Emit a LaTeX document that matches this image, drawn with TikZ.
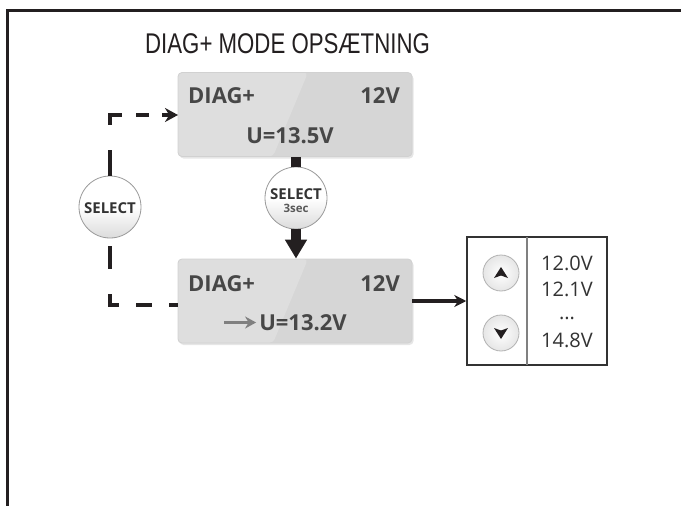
\documentclass[tikz,border=0pt]{standalone}
\usepackage{fontspec}
\setmainfont{Open Sans}
\newfontfamily\titlefont{Liberation Sans}
\usetikzlibrary{arrows.meta,shadows}
\definecolor{lcdlight}{HTML}{DEDEDE}
\definecolor{lcddark}{HTML}{D6D6D6}
\definecolor{inkdark}{HTML}{231F20}
\tikzset{
  lcdbox/.style={rectangle, rounded corners=4pt, minimum width=234pt, minimum height=84pt, inner sep=0pt,
    fill=lcddark, draw=black!18, line width=0.8pt,
    drop shadow={shadow xshift=1.5pt, shadow yshift=-2pt, opacity=0.2},
    path picture={\fill[lcdlight] (path picture bounding box.north west) -- ([xshift=130pt]path picture bounding box.north west)
      -- ([xshift=95pt]path picture bounding box.south west) -- (path picture bounding box.south west) -- cycle;}},
  lcdtext/.style={font=\bfseries\fontsize{22}{24}\selectfont, text=black!72, inner sep=0pt},
  bigbutton/.style={circle, minimum size=62pt, inner sep=0pt, draw=black!40, line width=0.8pt,
    top color=white, bottom color=black!14, middle color=white, align=center},
  smallbutton/.style={circle, minimum size=36pt, inner sep=0pt, draw=black!30, line width=0.8pt,
    inner color=white, outer color=black!10},
  buttontext/.style={font=\bfseries\fontsize{15}{15}\selectfont, text=black!80, inner sep=0pt},
  listtext/.style={font=\fontsize{20}{20}\selectfont, text=black!80, inner sep=0pt},
  wire/.style={inkdark, line width=3.5pt},
  fatwire/.style={inkdark, line width=10.5pt}
}

\begin{document}
\begin{tikzpicture}[x=1pt,y=-1pt]
  \useasboundingbox (0,0) rectangle (681,506);
  \draw[inkdark, line width=3pt] (681,10.5) -- (7.5,10.5) -- (7.5,506);
  \node[font=\titlefont\fontsize{28.5}{30}\selectfont, text=inkdark, inner sep=0pt, anchor=west, xscale=0.78, transform shape] (title) at (145,44) {DIAG+ MODE OPSÆTNING};

  % displays
  \node[lcdbox] (topbox) at (295,114.5) {};
  \node[lcdbox] (botbox) at (295,301) {};
  \node[lcdtext, anchor=west] (topdiag) at (188,95.5) {DIAG+};
  \node[lcdtext, anchor=east] (topvolt) at (400,95.5) {12V};
  \node[lcdtext] (topu) at (290,135.5) {U=13.5V};
  \node[lcdtext, anchor=west] (botdiag) at (188,283.5) {DIAG+};
  \node[lcdtext, anchor=east] (botvolt) at (400,283.5) {12V};
  \node[lcdtext] (botu) at (303,322.5) {U=13.2V};
  \draw[-{Stealth[length=11pt,width=12pt]}, black!50, line width=3pt] ([xshift=-35pt]botu.west) -- ([xshift=-3pt]botu.west);

  % buttons
  \node[bigbutton] (selleft) at (110,207) {};
  \node[buttontext] (selleftlabel) at (110,208) {SELECT};
  \node[bigbutton] (selmid) at (296,198) {};
  \node[buttontext] (selmidlabel) at (296,194) {SELECT};
  \node[font=\bfseries\fontsize{11.5}{12}\selectfont, text=black!65, inner sep=0pt] (selmidtime) at (296,208) {3sec};

  % value list
  \node[rectangle, draw=black!80, line width=1.5pt, minimum width=140pt, minimum height=128pt, inner sep=0pt] (listbox) at (537,301) {};
  \coordinate (listtop) at (527,237);
  \coordinate (listbot) at (527,365);
  \draw[black!50, line width=1.5pt] (listtop) -- (listbot);
  \node[smallbutton] (upkey) at (501,273) {};
  \node[smallbutton] (downkey) at (501,333) {};
  \fill[inkdark] ([shift={(0,-6)}]upkey.center) -- ([shift={(7,5)}]upkey.center) -- ([shift={(0,2.5)}]upkey.center) -- ([shift={(-7,5)}]upkey.center) -- cycle;
  \fill[inkdark] ([shift={(0,6)}]downkey.center) -- ([shift={(7,-5)}]downkey.center) -- ([shift={(0,-2.5)}]downkey.center) -- ([shift={(-7,-5)}]downkey.center) -- cycle;
  \node[listtext] (vala) at (567,263) {12.0V};
  \node[listtext] (valb) at (567,289) {12.1V};
  \node[listtext] (valc) at (567,318) {...};
  \node[listtext] (vald) at (567,340) {14.8V};

  % connectors
  \coordinate (topin) at (178,115);
  \coordinate (botin) at (178,305);
  \draw[wire, dash pattern=on 26pt off 25pt on 22pt off 14pt on 13pt off 13pt on 30pt, -{Stealth[length=13pt,width=14pt]}] (selleft.north) |- (topin);
  \draw[wire, dash pattern=on 0pt off 8pt on 23pt off 25pt on 20pt off 17pt on 16pt off 17pt on 20pt] (selleft.south) |- (botin);
  \draw[fatwire] (topbox.south -| selmid.north) -- (selmid.north);
  \draw[fatwire, -{Triangle[length=19pt,width=21pt]}] (selmid.south) -- (botbox.north -| selmid.south);
  \draw[wire, -{Stealth[length=12pt,width=12pt]}] (botbox.east) -- (listbox.west);
\end{tikzpicture}
\end{document}
